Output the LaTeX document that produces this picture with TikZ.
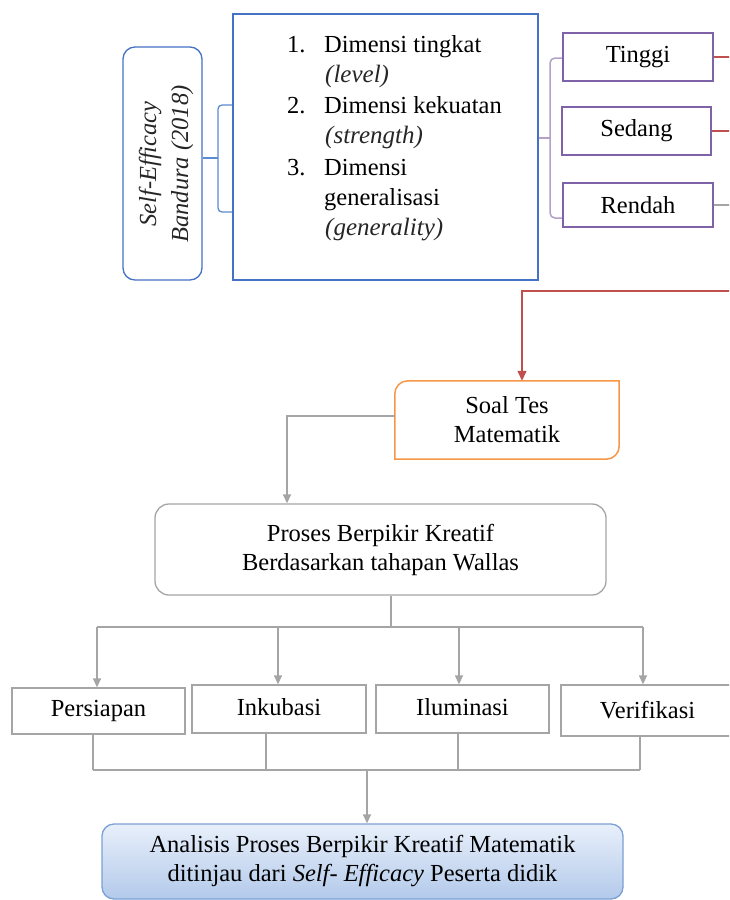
\documentclass[tikz,border=0pt]{standalone}
\usepackage{fontspec}
\setmainfont{Liberation Serif}
\usetikzlibrary{arrows.meta}
\definecolor{bluebox}{HTML}{4472C4}
\definecolor{bluebr}{HTML}{5B8BD0}
\definecolor{purp}{HTML}{7F62A8}
\definecolor{purpl}{HTML}{B3A2C7}
\definecolor{redl}{HTML}{C0504D}
\definecolor{orng}{HTML}{F79646}
\definecolor{grayl}{HTML}{A5A5A5}
\definecolor{anborder}{HTML}{7BA0D4}
\definecolor{antop}{HTML}{E8EFFA}
\definecolor{anbot}{HTML}{B3CAEB}
\definecolor{ittext}{HTML}{262626}
\tikzset{
  txt/.style={inner sep=0pt, anchor=base west},
  ittxt/.style={txt, text=ittext, font=\itshape\fontsize{25}{29}\selectfont},
  sebox/.style={draw=bluebox, line width=1.3pt, rounded corners=12pt, minimum width=79pt, minimum height=233pt, inner sep=0pt},
  listbox/.style={draw=bluebox, line width=1.3pt, minimum width=305pt, minimum height=266pt, inner sep=0pt},
  levbox/.style={draw=purp, line width=2.5pt, minimum width=150pt, inner sep=0pt},
  plainbox/.style={inner sep=0pt, align=center},
  prosbox/.style={draw=grayl, line width=1.3pt, rounded corners=14pt, minimum width=451pt, minimum height=91pt, inner sep=0pt, align=center},
  stagebox/.style={draw=grayl, line width=1.3pt, minimum width=173pt, inner sep=0pt},
  anbox/.style={draw=anborder, line width=1.3pt, rounded corners=12pt, top color=antop, bottom color=anbot, minimum width=521pt, minimum height=75pt, inner sep=0pt, align=center},
  bluebrack/.style={draw=bluebr, line width=1.3pt},
  purbrack/.style={draw=purpl, line width=1.5pt},
  redline/.style={draw=redl, line width=1.3pt},
  redarr/.style={redline, -{Triangle[length=10pt,width=9pt]}},
  grayline/.style={draw=grayl, line width=1.3pt},
  grayarr/.style={grayline, -{Triangle[length=9pt,width=8pt]}},
  orline/.style={draw=orng, line width=1.5pt, line cap=rect},
}
\begin{document}
\begin{tikzpicture}[x=1pt, y=-1pt, font=\fontsize{24.5}{29}\selectfont]
\path[use as bounding box] (0,0) rectangle (729,900);
\fill[white] (0,0) rectangle (729,900);
\clip (0,0) rectangle (729,900);

% top-left
\node[sebox] (se) at (162.5,163.5) {};
\node[rotate=90, align=center, inner sep=0pt, text=ittext, font=\itshape\fontsize{24.5}{32}\selectfont] (setext) at (166,164) {Self-Efficacy\\Bandura (2018)};

\node[listbox] (list) at (385.5,147) {};
\node[txt] (n1) at (287,52) {1.};
\node[txt] (l1) at (324,52) {Dimensi tingkat};
\node[ittxt] (l1b) at (325,82) {(level)};
\node[txt] (n2) at (287,113) {2.};
\node[txt] (l2) at (324,113) {Dimensi kekuatan};
\node[ittxt] (l2b) at (325,143) {(strength)};
\node[txt] (n3) at (287,175) {3.};
\node[txt] (l3) at (324,175) {Dimensi};
\node[txt] (l3b) at (324,205) {generalisasi};
\node[ittxt] (l3c) at (325,235) {(generality)};

% blue bracket
\coordinate (bmid) at (218,158);
\draw[bluebrack] (se.east |- bmid) -- (bmid);
\draw[bluebrack, rounded corners=4pt] (list.west |- 0,105) -- (218,105) -- (218,212) -- (list.west |- 0,212);

% level boxes
\node[levbox, minimum height=48pt] (ti) at (638,57) {Tinggi};
\node[levbox, minimum height=48pt, minimum width=149pt] (se2) at (636.5,131) {Sedang};
\node[levbox, minimum height=44pt] (re) at (638,205) {Rendah};

% purple bracket
\coordinate (pmid) at (550,138);
\draw[purbrack] (list.east |- pmid) -- (pmid);
\draw[purbrack, rounded corners=5pt] (ti.west |- 0,58) -- (550,58) -- (550,218) -- (re.west |- 0,218);

% lines leaving right edge
\coordinate (edge) at (735,0);
\draw[redline] (ti.east) -- (ti.east -| edge);
\draw[redline] (se2.east) -- (se2.east -| edge);
\draw[grayline] (re.east) -- (re.east -| edge);

% soal tes
\node[plainbox, minimum width=224pt, minimum height=78pt] (soal) at (507,420) {Soal Tes\\Matematik};
\draw[orline, rounded corners=13pt] (soal.south west) -- (soal.north west) -- (soal.north east);
\draw[orline, rounded corners=13pt] (soal.north east) -- (soal.south east) -- (soal.south west);

\coordinate (rr) at (735,291);
\draw[redarr] (rr) -| ([xshift=15pt]soal.north);

% proses
\node[prosbox] (pros) at (380.5,549.5) {Proses Berpikir Kreatif\\Berdasarkan tahapan Wallas};
\draw[grayarr] ([yshift=4pt]soal.west) -| ([xshift=-93.5pt]pros.north);

% stages
\node[stagebox, minimum height=46pt] (per) at (98.5,711) {Persiapan};
\node[stagebox, minimum height=48pt, minimum width=174pt] (ink) at (279,709) {\raisebox{4pt}{Inkubasi}};
\node[stagebox, minimum height=48pt] (ilu) at (462.5,709) {\raisebox{4pt}{Iluminasi}};
\node[stagebox, minimum height=51pt] (ver) at (647.5,710.5) {Verifikasi};

\coordinate (hb) at (391,627);
\draw[grayline] (hb |- pros.south) -- (hb);
\draw[grayline] ([xshift=-1.5pt]per.north |- hb) -- ([xshift=-4.5pt]ver.north |- hb);
\draw[grayarr] ([xshift=-1.5pt]per.north |- hb) -- ([xshift=-1.5pt]per.north);
\draw[grayarr] ([xshift=-1pt]ink.north |- hb) -- ([xshift=-1pt]ink.north);
\draw[grayarr] ([xshift=-3.5pt]ilu.north |- hb) -- ([xshift=-3.5pt]ilu.north);
\draw[grayarr] ([xshift=-4.5pt]ver.north |- hb) -- ([xshift=-4.5pt]ver.north);

% bottom collector
\coordinate (hb2) at (367,770);
\draw[grayline] ([xshift=-5.5pt]per.south) -- ([xshift=-5.5pt]per.south |- hb2);
\draw[grayline] ([xshift=-13pt]ink.south) -- ([xshift=-13pt]ink.south |- hb2);
\draw[grayline] ([xshift=-4.5pt]ilu.south) -- ([xshift=-4.5pt]ilu.south |- hb2);
\draw[grayline] ([xshift=-7.5pt]ver.south) -- ([xshift=-7.5pt]ver.south |- hb2);
\draw[grayline] ([xshift=-5.5pt]per.south |- hb2) -- ([xshift=-7.5pt]ver.south |- hb2);

% analisis
\node[anbox] (an) at (362.5,861.5) {Analisis Proses Berpikir Kreatif Matematik\\ditinjau dari \textit{Self- Efficacy} Peserta didik};
\draw[grayarr] (hb2) -- (hb2 |- an.north);
\end{tikzpicture}
\end{document}
